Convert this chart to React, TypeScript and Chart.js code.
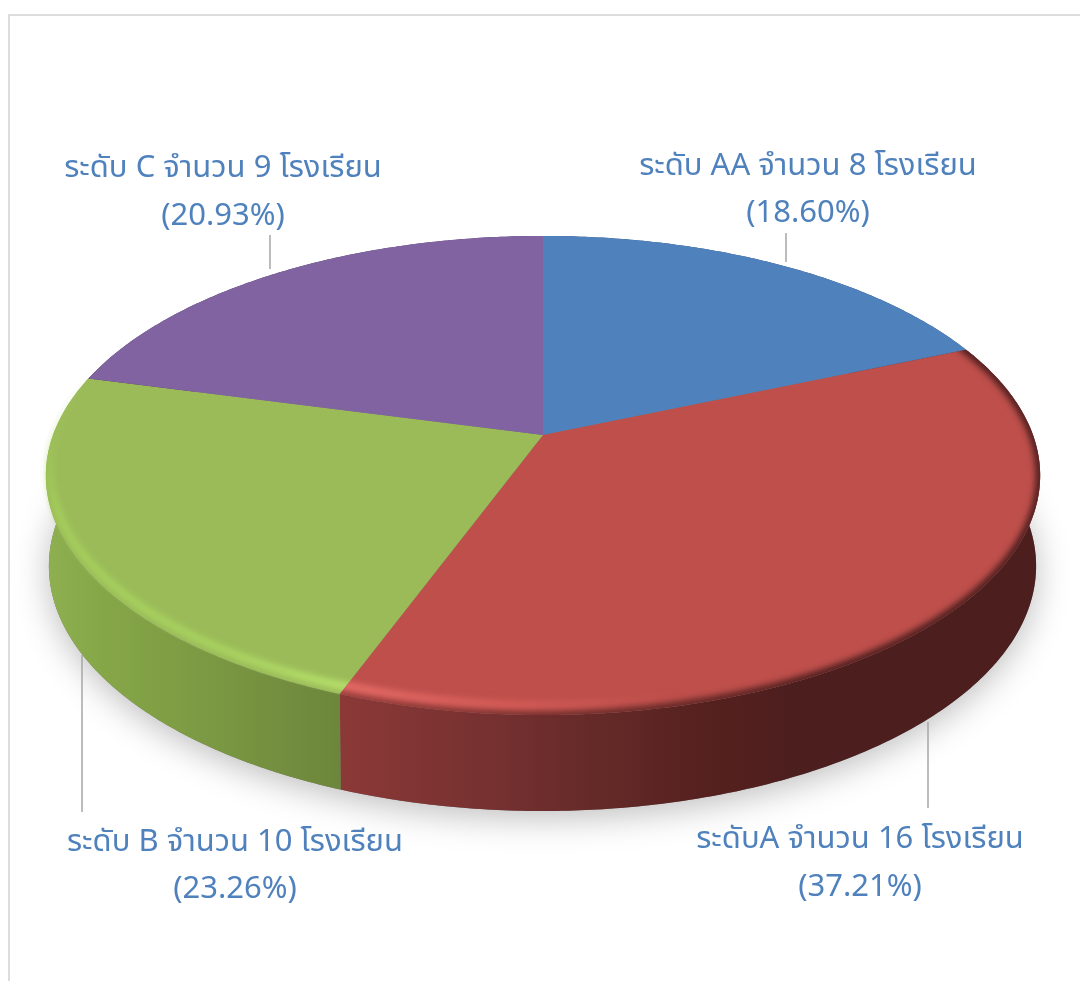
import React, { useEffect, useRef } from "react";
import { Chart, registerables } from "chart.js";

Chart.register(...registerables);

const categories = [
  "ระดับ AA จำนวน 8 โรงเรียน",
  "ระดับA จำนวน 16 โรงเรียน",
  "ระดับ B จำนวน 10 โรงเรียน",
  "ระดับ C จำนวน 9 โรงเรียน",
];
const schools = [8, 16, 10, 9];
const percentLabels = ["(18.60%)", "(37.21%)", "(23.26%)", "(20.93%)"];
const topColors = ["#4f81bd", "#be4f4b", "#9bbb59", "#8063a0"];

// Layout / style only
const labelCenters = [
  [808, 169, 216],
  [860, 842, 890],
  [235, 845, 892],
  [223, 171, 219],
];
const leaders = [
  [786, 233, 262],
  [928, 722, 808],
  [82, 655, 812],
  [270, 235, 269],
];
const wallStops: [number, string][][] = [
  [[0, "#2f4d71"], [1, "#2f4d71"]],
  [[340, "#8b3937"], [500, "#753030"], [600, "#642a28"], [700, "#56211f"], [800, "#4c1e1e"], [1040, "#4c1e1e"]],
  [[45, "#8fb050"], [100, "#86a748"], [200, "#7c9a43"], [345, "#6c853b"]],
  [[0, "#4c3c60"], [1, "#4c3c60"]],
];
const K = 0.169;
const TOP = { cx: 543, cy: 435, b: 490, a: 232.7 };
const BOTTOM = { cx: 542.5, cy: 524.6, b: 486.5, a: 238 };

function project(p: typeof TOP, angle: number, r = 1, dy = 0): [number, number] {
  const s = Math.max(0, Math.sin(angle));
  const warped = angle - 0.01 * s * s;
  const x = r * Math.cos(warped);
  const y = r * Math.sin(warped);
  const w = 1 - K * y;
  return [p.cx + (p.b * x) / w, p.cy + (p.a * y) / w + dy];
}

function arcPoints(p: typeof TOP, a0: number, a1: number, r = 1, dy = 0) {
  const n = Math.max(2, Math.ceil(Math.abs(a1 - a0) / 0.01));
  const pts: [number, number][] = [];
  for (let i = 0; i <= n; i++) pts.push(project(p, a0 + ((a1 - a0) * i) / n, r, dy));
  return pts;
}

function trace(ctx: CanvasRenderingContext2D, pts: [number, number][], close = false) {
  ctx.beginPath();
  pts.forEach(([x, y], i) => (i ? ctx.lineTo(x, y) : ctx.moveTo(x, y)));
  if (close) ctx.closePath();
}

function hGradient(ctx: CanvasRenderingContext2D, stops: [number, string][]) {
  const x0 = stops[0][0];
  const x1 = stops[stops.length - 1][0];
  const g = ctx.createLinearGradient(x0, 0, x1, 0);
  stops.forEach(([x, c]) => g.addColorStop((x - x0) / (x1 - x0), c));
  return g;
}

const pie3d = {
  id: "pie3d",
  beforeDatasetDraw() {
    return false;
  },
  afterDatasetsDraw(chart: any) {
    const ctx: CanvasRenderingContext2D = chart.ctx;
    const arcs = chart.getDatasetMeta(0).data;

    // frame
    ctx.save();
    ctx.strokeStyle = "#dcdcdc";
    ctx.lineWidth = 2;
    ctx.beginPath();
    ctx.moveTo(9, 981);
    ctx.lineTo(9, 15);
    ctx.lineTo(1080, 15);
    ctx.stroke();
    ctx.restore();

    // ground shadow
    ctx.save();
    ctx.shadowColor = "rgba(0,0,0,0.26)";
    ctx.shadowBlur = 34;
    ctx.shadowOffsetY = 7;
    ctx.fillStyle = "#777";
    trace(ctx, arcPoints(BOTTOM, 0, Math.PI * 2), true);
    ctx.fill();
    ctx.restore();

    // side walls
    arcs.forEach((arc: any, i: number) => {
      const top = arcPoints(TOP, arc.startAngle, arc.endAngle);
      const bot = arcPoints(BOTTOM, arc.startAngle, arc.endAngle).reverse();
      ctx.fillStyle = hGradient(ctx, wallStops[i]);
      trace(ctx, [...top, ...bot], true);
      ctx.fill();
    });

    // top faces
    arcs.forEach((arc: any) => {
      const pts = [[TOP.cx, TOP.cy] as [number, number], ...arcPoints(TOP, arc.startAngle, arc.endAngle)];
      ctx.fillStyle = arc.options.backgroundColor;
      trace(ctx, pts, true);
      ctx.fill();
    });

    // bevel on the rim of the red and green slices
    const rim = (i: number, r: number, dy: number, width: number, blur: number, style: any, clipR = 1.012) => {
      const arc = arcs[i];
      ctx.save();
      trace(ctx, [[TOP.cx, TOP.cy], ...arcPoints(TOP, arc.startAngle, arc.endAngle, clipR)], true);
      ctx.clip();
      ctx.filter = `blur(${blur}px)`;
      ctx.strokeStyle = style;
      ctx.lineWidth = width;
      trace(ctx, arcPoints(TOP, arc.startAngle - 0.03, arc.endAngle + 0.03, r, dy));
      ctx.stroke();
      ctx.restore();
    };

    const dark = ctx.createLinearGradient(330, 0, 820, 0);
    dark.addColorStop(0, "rgba(139,57,55,0.7)");
    dark.addColorStop(0.5, "rgba(100,42,40,0.9)");
    dark.addColorStop(1, "rgba(76,30,30,1)");
    rim(1, 1.0, 0, 9, 3, dark, 1.0);

    const green = ctx.createLinearGradient(60, 400, 340, 690);
    green.addColorStop(0, "rgba(165,208,92,0)");
    green.addColorStop(0.2, "rgba(165,208,92,0.9)");
    green.addColorStop(0.75, "rgba(170,215,98,0.9)");
    green.addColorStop(1, "rgba(184,226,108,1)");
    rim(2, 0.992, -6, 8, 3, green);

    const pink = ctx.createLinearGradient(340, 0, 680, 0);
    pink.addColorStop(0, "rgba(232,110,106,1)");
    pink.addColorStop(0.5, "rgba(224,98,94,0.7)");
    pink.addColorStop(1, "rgba(224,98,94,0)");
    rim(1, 0.992, -7, 8, 3, pink);

    // leader lines
    ctx.save();
    ctx.strokeStyle = "#a6a6a6";
    ctx.lineWidth = 1.5;
    leaders.forEach(([x, y0, y1]) => {
      ctx.beginPath();
      ctx.moveTo(x, y0);
      ctx.lineTo(x, y1);
      ctx.stroke();
    });
    ctx.restore();

    // labels
    ctx.save();
    ctx.fillStyle = "#4f81bd";
    ctx.font = '31px "Noto Sans Thai", Loma, "Noto Sans", "Open Sans", sans-serif';
    ctx.textAlign = "center";
    ctx.textBaseline = "middle";
    categories.forEach((c, i) => {
      const [x, y0, y1] = labelCenters[i];
      ctx.fillText(c, x, y0);
      ctx.fillText(percentLabels[i], x, y1);
    });
    ctx.restore();
  },
};

export default function App() {
  const ref = useRef<HTMLCanvasElement>(null);
  useEffect(() => {
    const chart = new Chart(ref.current!, {
      type: "pie",
      data: {
        labels: categories,
        datasets: [{ data: schools, backgroundColor: topColors, borderWidth: 0 }],
      },
      options: {
        animation: false,
        responsive: false,
        plugins: { legend: { display: false }, tooltip: { enabled: false } },
      },
      plugins: [pie3d],
    } as any);
    return () => chart.destroy();
  }, []);
  return (
    <div style={{ position: "absolute", left: 0, top: 0, width: 1080, height: 981, background: "#fff" }}>
      <canvas ref={ref} width={1080} height={981} style={{ display: "block" }} />
    </div>
  );
}
